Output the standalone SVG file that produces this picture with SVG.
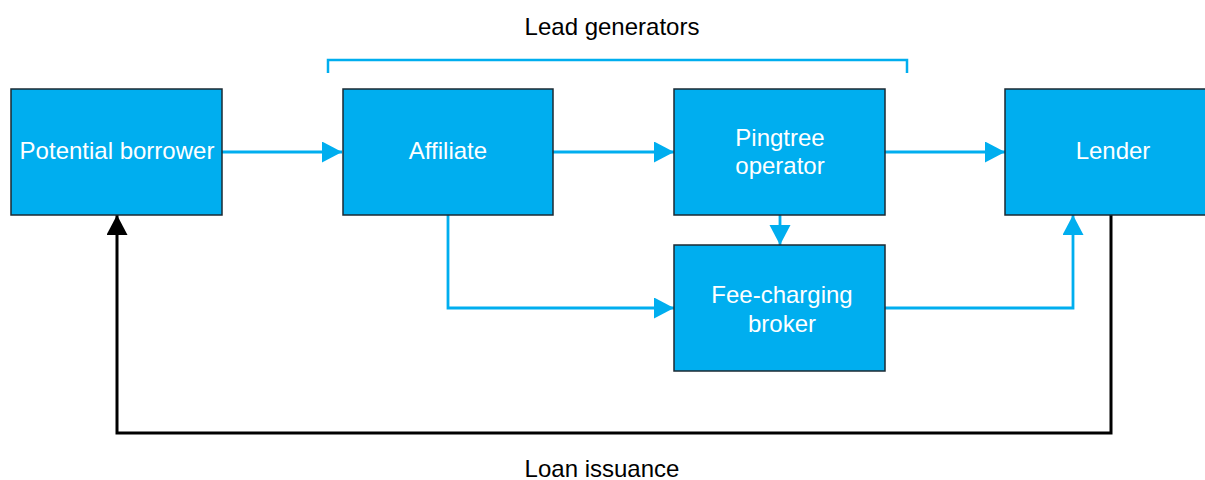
<svg xmlns="http://www.w3.org/2000/svg" width="1205" height="480" viewBox="0 0 1205 480">
  <style>
    .box { fill: #00AEEF; stroke: #1b2a33; stroke-width: 1.5; }
    .label { fill: #ffffff; font-family: "Liberation Sans", Arial, sans-serif; font-size: 24px; text-anchor: middle; }
    .caption { fill: #000000; font-family: "Liberation Sans", Arial, sans-serif; font-size: 24px; text-anchor: middle; }
    .flow { fill: none; stroke: #00AEEF; stroke-width: 2.8; }
    .loan { fill: none; stroke: #000000; stroke-width: 3; }
  </style>
  <defs>
    <marker id="arrowBlue" markerUnits="userSpaceOnUse" markerWidth="21" markerHeight="22" refX="20" refY="10.5" orient="auto">
      <path d="M0,0 L20,10.5 L0,21 Z" fill="#00AEEF"/>
    </marker>
    <marker id="arrowBlack" markerUnits="userSpaceOnUse" markerWidth="21" markerHeight="22" refX="20" refY="10.5" orient="auto">
      <path d="M0,0 L20,10.5 L0,21 Z" fill="#000000"/>
    </marker>
  </defs>

  <rect width="1205" height="480" fill="#ffffff"/>

  <!-- Lead generators bracket and caption -->
  <g id="lead-generators">
    <path d="M328,73 V60 H907 V73" fill="none" stroke="#00AEEF" stroke-width="2.5"/>
    <text class="caption" x="612" y="35">Lead generators</text>
  </g>

  <!-- Connectors -->
  <g id="connectors">
    <line class="flow" x1="222" y1="152" x2="342" y2="152" marker-end="url(#arrowBlue)"/>
    <line class="flow" x1="553" y1="152" x2="674" y2="152" marker-end="url(#arrowBlue)"/>
    <line class="flow" x1="885" y1="152" x2="1005" y2="152" marker-end="url(#arrowBlue)"/>
    <line class="flow" x1="780" y1="215" x2="780" y2="245" marker-end="url(#arrowBlue)"/>
    <polyline class="flow" points="448,215 448,308 674,308" marker-end="url(#arrowBlue)"/>
    <polyline class="flow" points="885,308 1073,308 1073,215" marker-end="url(#arrowBlue)"/>
    <polyline class="loan" points="1111,215 1111,433 117,433 117,215" marker-end="url(#arrowBlack)"/>
    <text class="caption" x="602" y="477">Loan issuance</text>
  </g>

  <g id="potential-borrower">
    <rect class="box" x="11" y="89" width="211" height="126"/>
    <text class="label" x="117" y="159">Potential borrower</text>
  </g>

  <g id="affiliate">
    <rect class="box" x="343" y="89" width="210" height="126"/>
    <text class="label" x="448" y="159">Affiliate</text>
  </g>

  <g id="pingtree-operator">
    <rect class="box" x="674" y="89" width="211" height="126"/>
    <text class="label" x="780" y="146">Pingtree</text>
    <text class="label" x="780" y="174">operator</text>
  </g>

  <g id="fee-charging-broker">
    <rect class="box" x="674" y="245" width="211" height="126"/>
    <text class="label" x="782" y="303">Fee-charging</text>
    <text class="label" x="782" y="332">broker</text>
  </g>

  <g id="lender">
    <rect class="box" x="1005" y="89" width="212" height="126"/>
    <text class="label" x="1113" y="159">Lender</text>
  </g>
</svg>
